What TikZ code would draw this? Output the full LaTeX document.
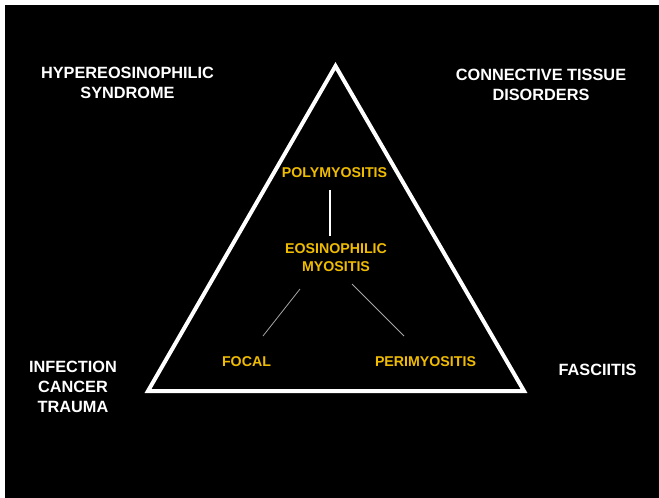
\documentclass[tikz,border=0pt]{standalone}
\usepackage{fontspec}
\setmainfont{Liberation Sans}
\definecolor{gold}{RGB}{240,188,0}
\begin{document}
\begin{tikzpicture}[x=1pt,y=-1pt,
  outer/.style={text=white,font=\fontsize{16.3}{20}\selectfont\bfseries,align=center,inner sep=0pt},
  inner/.style={text=gold,font=\fontsize{14.2}{18}\selectfont\bfseries,align=center,inner sep=0pt},
  edge/.style={draw=white,line width=4pt,miter limit=10,line join=miter},
  link/.style={draw=white,line width=1.1pt},
  thinlink/.style={draw=white!65!black,line width=0.8pt}]
  % page and slide background
  \fill[white] (0,0) rectangle (659,498);
  \useasboundingbox (0,0) rectangle (659,498);
  \fill[black] (5,5) rectangle (659,498);

  % triangle
  \coordinate (apex) at (335.5,66);
  \coordinate (bl) at (148,391);
  \coordinate (br) at (524,391);
  \draw[edge] (apex) -- (br) -- (bl) -- cycle;

  % corner labels
  \node[outer] (hes) at (127.5,82.5) {HYPEREOSINOPHILIC\\SYNDROME};
  \node[outer] (ctd) at (541,85) {CONNECTIVE TISSUE\\DISORDERS};
  \node[outer] (ict) at (73,386.5) {INFECTION\\CANCER\\TRAUMA};
  \node[outer] (fas) at (597.5,370) {FASCIITIS};

  % inner labels
  \node[inner] (poly) at (334.5,173) {POLYMYOSITIS};
  \node[inner] (eos) at (336,258) {EOSINOPHILIC\\MYOSITIS};
  \node[inner] (foc) at (246.5,361.5) {FOCAL};
  \node[inner] (peri) at (425.5,361.5) {PERIMYOSITIS};

  % connector ends
  \coordinate (p1) at (330,190);
  \coordinate (p2) at (330,236);
  \coordinate (f1) at (300,289);
  \coordinate (f2) at (263,336);
  \coordinate (r1) at (352,284);
  \coordinate (r2) at (404,336);
  \draw[link] (p1) -- (p2);
  \draw[thinlink] (f1) -- (f2);
  \draw[thinlink] (r1) -- (r2);
\end{tikzpicture}
\end{document}
